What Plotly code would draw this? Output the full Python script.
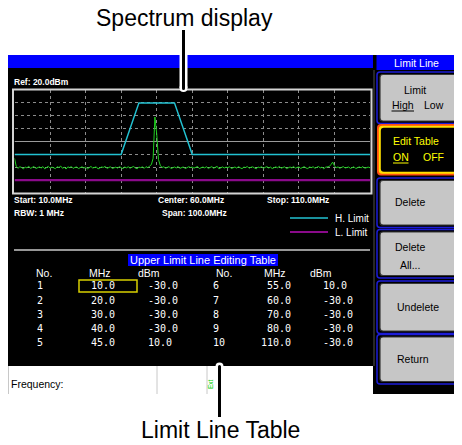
import plotly.graph_objects as go

W, H = 462, 445
OFF = 8  # browser body margin
FW, FH = W - OFF, H - OFF


def px(x):
    return (x - OFF) / FW


def py(y):
    return 1 - (y - OFF) / FH


# ---------------- data ----------------
ref_level_dbm = 20.0
db_per_div = 10.0
n_divs = 8
start_mhz = 10.0
stop_mhz = 110.0
rbw_text = "1 MHz"
step_mhz = 0.5

trace_dbm = [
    -33.0, -39.5, -40.8, -39.6, -40.2, -41.3, -39.8, -40.5, -39.2, -40.9,
    -40.1, -39.4, -41.0, -40.3, -39.7, -40.6, -39.5, -41.2, -40.0, -39.3,
    -40.7, -39.9, -40.4, -41.1, -39.6, -40.2, -39.1, -40.8, -40.0, -41.4,
    -39.7, -40.3, -39.5, -40.9, -40.1, -39.8, -41.0, -40.4, -39.6, -40.7,
    -39.9, -41.2, -40.2, -39.4, -40.6, -40.0, -39.7, -41.3, -40.5, -39.8,
    -40.1, -39.3, -40.9, -40.4, -39.6, -41.0, -40.2, -39.9, -40.7, -39.5,
    -40.3, -41.1, -39.8, -40.5, -39.6, -40.8, -40.0, -39.4, -40.6, -41.2,
    -39.9, -40.3, -39.7, -40.9, -39.5, -40.4, -39.0, -38.0, -33.0, -1.0,
    -14.0, -34.0, -38.5, -40.2, -39.6, -40.8, -40.1, -39.5, -41.0, -40.3,
    -39.8, -40.6, -39.3, -40.9, -40.0, -39.7, -41.1, -40.4, -39.6, -40.2,
    -39.9, -40.7, -40.1, -39.4, -41.0, -40.3, -39.8, -40.5, -39.6, -40.9,
    -40.2, -39.5, -40.8, -40.0, -39.3, -41.2, -40.4, -39.7, -40.6, -39.9,
    -40.3, -39.6, -41.0, -40.1, -39.8, -40.7, -39.5, -40.4, -41.1, -39.9,
    -40.2, -39.4, -40.8, -40.0, -39.7, -40.5, -41.2, -39.8, -40.3, -39.6,
    -40.9, -40.1, -39.5, -40.6, -39.9, -41.0, -40.2, -39.7, -40.4, -39.3,
    -40.8, -40.0, -39.6, -41.1, -40.3, -39.8, -40.5, -39.4, -40.7, -40.1,
    -39.7, -40.9, -40.2, -39.5, -40.6, -41.0, -39.8, -40.3, -39.6, -40.8,
    -40.1, -39.4, -40.5, -39.9, -41.2, -40.0, -39.7, -39.5, -38.0, -36.0,
    -38.9, -40.4, -39.7, -40.8, -40.1, -39.5, -40.6, -40.2, -39.8, -40.9,
    -40.0, -39.6, -41.0, -40.3, -39.7, -40.5, -39.4, -40.8, -40.1, -39.9,
    -40.4,
]
trace_freq = [start_mhz + i * step_mhz for i in range(len(trace_dbm))]

limit_no = [1, 2, 3, 4, 5, 6, 7, 8, 9, 10]
limit_freq_mhz = [10.0, 20.0, 30.0, 40.0, 45.0, 55.0, 60.0, 70.0, 80.0, 110.0]
limit_dbm = [-30.0, -30.0, -30.0, -30.0, 10.0, 10.0, -30.0, -30.0, -30.0, -30.0]
low_limit_freq_mhz = [10.0, 110.0]
low_limit_dbm = [-50.0, -50.0]
display_line_dbm = -20.0

softkeys = ["Limit", "Edit Table", "Delete", "Delete", "Undelete", "Return"]

# ---------------- styles ----------------
C_TRACE = "#1ed21e"
C_HLIM = "#22c2d2"
C_LLIM = "#8a0a8a"
C_GRID = "#8c8c8c"
SANS = "Liberation Sans, Arial, sans-serif"
MONO = "DejaVu Sans Mono, monospace"

fig = go.Figure()

fig.add_trace(go.Scatter(x=[start_mhz, stop_mhz], y=[display_line_dbm, display_line_dbm],
                         mode="lines", line=dict(color="#9a9a9a", width=1.2),
                         hoverinfo="skip"))
fig.add_trace(go.Scatter(x=low_limit_freq_mhz, y=low_limit_dbm, mode="lines",
                         line=dict(color=C_LLIM, width=2.2), name="L. Limit"))
fig.add_trace(go.Scatter(x=trace_freq, y=trace_dbm, mode="lines",
                         line=dict(color=C_TRACE, width=1), name="Trace"))
fig.add_trace(go.Scatter(x=limit_freq_mhz, y=limit_dbm, mode="lines",
                         line=dict(color=C_HLIM, width=1.5), name="H. Limit"))

X0, X1, Y0, Y1 = 14.5, 370.0, 90.0, 193.0

shapes = []
ann = []


def rect(x0, y0, x1, y1, fill=None, line=None, lw=1, layer="above"):
    shapes.append(dict(type="rect", xref="paper", yref="paper",
                       x0=px(x0), x1=px(x1), y0=py(y1), y1=py(y0),
                       fillcolor=fill if fill else "rgba(0,0,0,0)",
                       line=dict(color=line if line else "rgba(0,0,0,0)", width=lw if line else 0),
                       layer=layer))


def rrect(x0, y0, x1, y1, r, fill=None, line=None, lw=1):
    pts = [
        ("M", x0 + r, y0), ("L", x1 - r, y0), ("Q", x1, y0, x1, y0 + r),
        ("L", x1, y1 - r), ("Q", x1, y1, x1 - r, y1), ("L", x0 + r, y1),
        ("Q", x0, y1, x0, y1 - r), ("L", x0, y0 + r), ("Q", x0, y0, x0 + r, y0),
    ]
    s = ""
    for p in pts:
        cmd = p[0]
        coords = p[1:]
        parts = []
        for i in range(0, len(coords), 2):
            parts.append(f"{px(coords[i]):.5f},{py(coords[i + 1]):.5f}")
        s += cmd + " " + " ".join(parts) + " "
    s += "Z"
    shapes.append(dict(type="path", xref="paper", yref="paper", path=s,
                       fillcolor=fill if fill else "rgba(0,0,0,0)",
                       line=dict(color=line if line else "rgba(0,0,0,0)", width=lw if line else 0)))


def hline(x0, x1, y, color, lw=1, dash=None):
    shapes.append(dict(type="line", xref="paper", yref="paper",
                       x0=px(x0), x1=px(x1), y0=py(y), y1=py(y),
                       line=dict(color=color, width=lw, dash=dash)))


def vline(x, y0, y1, color, lw=1):
    shapes.append(dict(type="line", xref="paper", yref="paper",
                       x0=px(x), x1=px(x), y0=py(y0), y1=py(y1),
                       line=dict(color=color, width=lw)))


def circ(cx, cy, r, color):
    shapes.append(dict(type="circle", xref="paper", yref="paper",
                       x0=px(cx - r), x1=px(cx + r), y0=py(cy + r), y1=py(cy - r),
                       fillcolor=color, line=dict(width=0)))


def txt(x, y, s, size, color="white", anchor="left", family=SANS, angle=0):
    ann.append(dict(x=px(x), y=py(y), xref="paper", yref="paper", text=s,
                    showarrow=False, xanchor=anchor, yanchor="middle",
                    textangle=angle, borderpad=0,
                    font=dict(family=family, size=size, color=color)))


# screen backgrounds
rect(8, 68, 375, 366, fill="black", layer="below")
rect(8, 55, 373, 68, fill="#0000ff")
rect(373, 55, 462, 394, fill="black")
rect(376.5, 55, 462, 70, fill="#0000ff")
vline(374, 70, 366, "#505050", 1)

# spectrum frame
rect(13, 89.5, 371.5, 193.5, line="#d4d4d4", lw=2)

# status bar
rect(8, 366, 373, 394, fill="white")
vline(8.5, 366, 394, "#c8c8c8", 1)
vline(157, 366, 394, "#c8c8c8", 1)
vline(207, 366, 394, "#c8c8c8", 1)
txt(10, 384, "Frequency:", 10.5, "black")
txt(210, 384, "Ext", 6.5, "#00d000", anchor="center", angle=-90)

# screen labels
txt(13, 82, f"Ref: {ref_level_dbm:.1f}dBm", 8.5)
txt(13, 200, f"Start: {start_mhz:.1f}MHz", 8.5)
txt(13, 213, f"RBW: {rbw_text}", 8.5)
txt(157, 200, f"Center: {(start_mhz + stop_mhz) / 2:.1f}MHz", 8.5)
txt(161, 213, f"Span: {stop_mhz - start_mhz:.1f}MHz", 8.5)
txt(266, 200, f"Stop: {stop_mhz:.1f}MHz", 8.5)
for a in ann[-6:]:
    a["text"] = "<b>" + a["text"] + "</b>"

# legend
hline(290, 328, 218, C_HLIM, 1.5)
hline(290, 328, 232, C_LLIM, 2)
txt(334, 218, "H. Limit", 10)
txt(334, 232, "L. Limit", 10)

# separator & table title
hline(14, 370, 250, "#c8c8c8", 1.5)
rect(128, 254, 278, 266, fill="#0000ff")
txt(203, 260, "Upper Limit Line Editing Table", 11, anchor="center")

# table header
hdr_y = 273
for (xn, xm, xd) in [(35, 99.5, 148.5), (215, 275, 321)]:
    txt(xn, hdr_y, "No.", 10.5)
    txt(xm, hdr_y, "MHz", 10.5, anchor="center")
    txt(xd, hdr_y, "dBm", 10.5, anchor="center")

row_y0, row_dy = 285.7, 14.3
for i, (n, f, d) in enumerate(zip(limit_no, limit_freq_mhz, limit_dbm)):
    col = i // 5
    r = i % 5
    y = row_y0 + r * row_dy
    xn = 36 if col == 0 else 212
    xm = 115.5 if col == 0 else 292
    xd = 147 if col == 0 else 322
    txt(xn, y, str(n), 10, family=MONO)
    txt(xm, y, f"{f:.1f}", 10, family=MONO, anchor="right")
    txt(xd, y, f"{d:.1f}", 10, family=MONO)
rect(79, 280, 137, 292, line="#d8d000", lw=1.5)

# right panel softkeys
txt(416.5, 63, "Limit Line", 10.5, anchor="center")


def gray_button(y0, y1):
    rrect(377, y0, 461, y1, 3, fill="black", line="#1c1cd8", lw=1.5)
    rrect(380, y0 + 2.5, 458.5, y1 - 2.5, 3, fill="#c6c6c6", line="#383838", lw=1.2)


gray_button(72, 123.5)
txt(415, 90, softkeys[0], 10.5, "black", anchor="center")
txt(403, 105, "High", 10.5, "black", anchor="center")
txt(434, 105, "Low", 10.5, "black", anchor="center")
hline(391.5, 414, 111, "black", 1)

rrect(377, 124, 461, 175.5, 4, fill="#ff5010")
rrect(378.8, 125.8, 459.2, 173.7, 3.5, fill="#ffe000")
rrect(380.8, 127.8, 457.2, 171.7, 3, fill="black")
txt(416, 141, softkeys[1], 10.5, "#ffff00", anchor="center")
txt(401, 157, "ON", 10.5, "#ffff00", anchor="center")
txt(433, 157, "OFF", 10.5, "#ffff00", anchor="center")
hline(393, 408.5, 163, "#ffff00", 1)

gray_button(178, 227.5)
txt(410.5, 202, softkeys[2], 10.5, "black", anchor="center")
gray_button(229.5, 278)
txt(410, 247, softkeys[3], 10.5, "black", anchor="center")
txt(410, 265, "All...", 10.5, "black", anchor="center")
gray_button(281, 333.5)
txt(418, 307, softkeys[4], 10.5, "black", anchor="center")
gray_button(334.5, 384)
txt(412.5, 358.5, softkeys[5], 10.5, "black", anchor="center")

# callouts
vline(183.5, 55, 88, "white", 8)
circ(183.5, 88, 4, "white")
vline(183.5, 30, 88.5, "black", 3)
circ(183.5, 88.5, 1.5, "black")
txt(184, 18, "Spectrum display", 23, "black", anchor="center")

circ(219.5, 366.5, 4, "white")
vline(219.5, 366.5, 417, "black", 3)
circ(219.5, 366.5, 1.5, "black")
txt(220, 430, "Limit Line Table", 23, "black", anchor="center")

fig.update_layout(
    width=FW, height=FH, margin=dict(l=0, r=0, t=0, b=0),
    paper_bgcolor="white", plot_bgcolor="black", showlegend=False,
    shapes=shapes, annotations=ann,
    xaxis=dict(domain=[px(X0), px(X1)], range=[start_mhz, stop_mhz], dtick=10,
               showgrid=True, gridcolor=C_GRID, griddash="dot", gridwidth=1,
               zeroline=False, showticklabels=False, ticks="", showline=False,
               fixedrange=True),
    yaxis=dict(domain=[py(Y1), py(Y0)],
               range=[ref_level_dbm - n_divs * db_per_div, ref_level_dbm],
               dtick=db_per_div, showgrid=True, gridcolor=C_GRID, griddash="dot",
               gridwidth=1, zeroline=False, showticklabels=False, ticks="",
               showline=False, fixedrange=True),
)

fig.write_html("out.html", config={"displayModeBar": False})
